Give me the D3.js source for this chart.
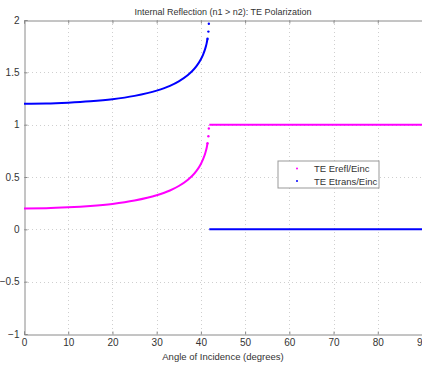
<!DOCTYPE html>
<html>
<head>
<meta charset="utf-8">
<script src="https://cdn.jsdelivr.net/npm/d3@7"></script>
<style>
  body { margin: 0; background: #fff; }
  svg { display: block; font-family: "Liberation Sans", Arial, sans-serif; }
</style>
</head>
<body>
<div id="chart"></div>
<script>
// values
const angleCurve = [0, 5, 10, 15, 20, 25, 30, 33, 35, 37, 38, 39, 40, 40.5, 41, 41.3, 41.5, 41.7, 41.8];
const reflCurve  = [0.200, 0.202, 0.210, 0.223, 0.243, 0.275, 0.325, 0.371, 0.414, 0.472, 0.510, 0.559, 0.625, 0.670, 0.729, 0.777, 0.822, 0.889, 0.964];
const transCurve = [1.200, 1.202, 1.210, 1.223, 1.243, 1.275, 1.325, 1.371, 1.414, 1.472, 1.510, 1.559, 1.625, 1.670, 1.729, 1.777, 1.822, 1.889, 1.964];
const angleFlat = [41.9, 90];
const reflFlat  = [1, 1];
const transFlat = [0, 0];
const xTicks = [0, 10, 20, 30, 40, 50, 60, 70, 80, 90];
const yTicks = [-1, -0.5, 0, 0.5, 1, 1.5, 2];
const seriesNames = ['TE Erefl/Einc', 'TE Etrans/Einc'];
const seriesColors = ['#ff00ff', '#0000ff'];

const W = 422, H = 366;
const margin = {top: 20, right: 0, bottom: 32, left: 24};

const svg = d3.select('#chart').append('svg')
    .attr('width', W)
    .attr('height', H);

const x = d3.scaleLinear().domain([0, 90]).range([margin.left, W - margin.right]);
const y = d3.scaleLinear().domain([-1, 2]).range([H - margin.bottom, margin.top]);

// grid
const grid = svg.append('g')
    .attr('stroke', '#cfcfcf')
    .attr('stroke-dasharray', '1,3')
    .attr('stroke-width', 1);
grid.selectAll('.vx')
    .data(xTicks.slice(1, -1))
    .join('line')
    .attr('x1', d => Math.round(x(d)) + 0.5)
    .attr('x2', d => Math.round(x(d)) + 0.5)
    .attr('y1', y(2))
    .attr('y2', y(-1));
grid.selectAll('.hy')
    .data(yTicks.slice(1, -1))
    .join('line')
    .attr('y1', d => Math.round(y(d)) + 0.5)
    .attr('y2', d => Math.round(y(d)) + 0.5)
    .attr('x1', x(0))
    .attr('x2', x(90));

// axes (MATLAB style: ticks inward, box)
const xAxis = svg.append('g')
    .attr('transform', `translate(0,${Math.round(y(-1)) + 0.5})`)
    .call(d3.axisBottom(x).tickValues(xTicks).tickSize(-3).tickPadding(4));
const xTop = svg.append('g')
    .attr('transform', `translate(0,${Math.round(y(2)) + 0.5})`)
    .call(d3.axisTop(x).tickValues(xTicks).tickSize(-3).tickFormat(''));
const yAxis = svg.append('g')
    .attr('transform', `translate(${Math.round(x(0)) + 0.5},0)`)
    .call(d3.axisLeft(y).tickValues(yTicks).tickSize(-3).tickPadding(5)
        .tickFormat(d => d3.format('')(d)));

[xAxis, xTop, yAxis].forEach(g => {
    g.select('.domain').attr('stroke', '#8a8a8a');
    g.selectAll('.tick line').attr('stroke', '#8a8a8a');
    g.selectAll('text').attr('fill', '#333').style('font-size', '10px');
});

// data
const line = d3.line()
    .x(d => x(d[0]))
    .y(d => y(d[1]))
    .curve(d3.curveMonotoneX);

const curves = [reflCurve, transCurve];
const flats = [reflFlat, transFlat];
const dataRegion = svg.append('g');
curves.forEach((vals, i) => {
    const pts = angleCurve.map((a, j) => [a, vals[j]]);
    // solid run of markers, then the sparse dots near the critical angle
    dataRegion.append('path')
        .attr('d', line(pts.slice(0, -2)))
        .attr('fill', 'none')
        .attr('stroke', seriesColors[i])
        .attr('stroke-width', 2);
    dataRegion.selectAll(null)
        .data(pts.slice(-3))
        .join('circle')
        .attr('cx', d => x(d[0]))
        .attr('cy', d => y(d[1]))
        .attr('r', 1.2)
        .attr('fill', seriesColors[i]);
    const fpts = angleFlat.map((a, j) => [a, flats[i][j]]);
    dataRegion.append('path')
        .attr('d', d3.line().x(d => x(d[0])).y(d => y(d[1]))(fpts))
        .attr('fill', 'none')
        .attr('stroke', seriesColors[i])
        .attr('stroke-width', 2);
});

// title + label
svg.append('text')
    .attr('x', (x(0) + x(90)) / 2)
    .attr('y', 15)
    .attr('text-anchor', 'middle')
    .attr('fill', '#333')
    .style('font-size', '9px')
    .text('Internal Reflection (n1 > n2): TE Polarization');
svg.append('text')
    .attr('x', (x(0) + x(90)) / 2)
    .attr('y', 360)
    .attr('text-anchor', 'middle')
    .attr('fill', '#333')
    .style('font-size', '9.5px')
    .text('Angle of Incidence (degrees)');

// legend
const legend = svg.append('g').attr('transform', 'translate(278,161)');
legend.append('rect')
    .attr('width', 101)
    .attr('height', 27)
    .attr('fill', '#fff')
    .attr('stroke', '#999');
const items = legend.selectAll('.item')
    .data(seriesNames)
    .join('g')
    .attr('transform', (d, i) => `translate(0,${7.5 + i * 12.5})`);
items.append('circle')
    .attr('cx', 19)
    .attr('cy', 0)
    .attr('r', 1)
    .attr('fill', (d, i) => seriesColors[i]);
items.append('text')
    .attr('x', 36)
    .attr('y', 3.5)
    .attr('fill', '#333')
    .style('font-size', '9.5px')
    .text(d => d);
</script>
</body>
</html>
